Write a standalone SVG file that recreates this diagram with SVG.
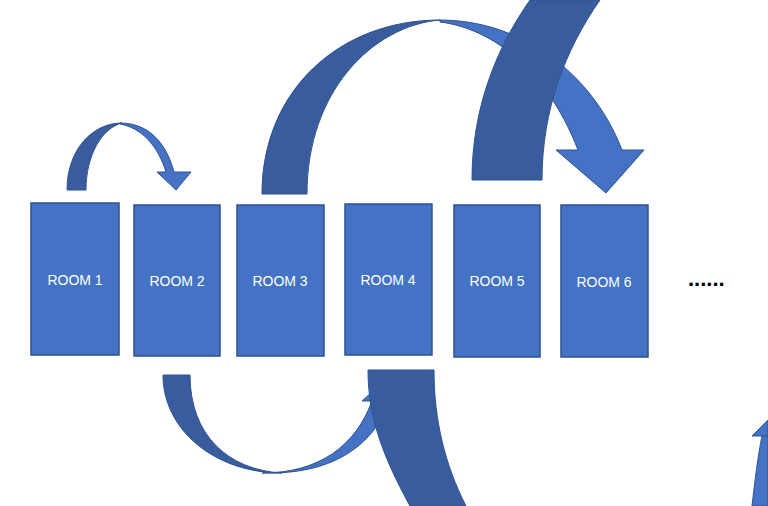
<svg xmlns="http://www.w3.org/2000/svg" width="768" height="506" viewBox="0 0 768 506">
<style>
.room{fill:#4472C4;stroke:#2F528F;stroke-width:1.5}
.lbl{font-family:"Liberation Sans",Arial,sans-serif;font-size:14px;fill:#fff;text-anchor:middle}
.dk{fill:#385C9E;stroke:#2F528F;stroke-width:1}
.lt{fill:#4472C4;stroke:#2F528F;stroke-width:1}
</style>
<rect width="768" height="506" fill="#fff"/>
<g id="connectors">
<path class="dk" d="M67,190 C67,150 92,123 122,123 C102,128 86,155 86,190 Z"/>
<path class="lt" d="M120,123 C148,123 166,142 174,172 L191,172 L176,190 L157,172 L166,172 C158,146 142,128 120,124 Z"/>
<path class="lt" d="M440,20 C520,20 592,72 622,150 L644,150 L606,193 L556,150 L578,150 C552,82 502,30 440,22 Z"/>
<path class="dk" d="M262,194 C262,90 340,20 440,20 C372,26 307,92 307,194 Z"/>
<path class="dk" d="M472,180 C472,110 495,50 530,0 L600,0 C565,50 542,110 542,180 Z"/>
<path class="lt" d="M262,473 C320,473 356,445 372,401 L362,401 L382,383 L400,401 L390,401 C372,448 330,475 262,473 Z"/>
<path class="dk" d="M163,375 L190,375 C190,435 228,470 282,473 C215,473 163,430 163,375 Z"/>
<path class="dk" d="M368,370 L434,370 C434,420 445,465 466,506 L410,506 C385,460 368,420 368,370 Z"/>
<path class="lt" d="M752,436 L768,420 L768,436 Z"/>
<path class="lt" d="M762,436 L768,436 L768,506 L752,506 C755,480 758,455 762,436 Z"/>
</g>
<g id="room1"><rect class="room" x="31" y="203" width="88" height="152"/><text class="lbl" x="75" y="285">ROOM 1</text></g>
<g id="room2"><rect class="room" x="134" y="205" width="86" height="151"/><text class="lbl" x="177" y="286">ROOM 2</text></g>
<g id="room3"><rect class="room" x="237" y="205" width="87" height="151"/><text class="lbl" x="280" y="286">ROOM 3</text></g>
<g id="room4"><rect class="room" x="345" y="204" width="87" height="151"/><text class="lbl" x="388" y="285">ROOM 4</text></g>
<g id="room5"><rect class="room" x="454" y="205" width="86" height="152"/><text class="lbl" x="497" y="286">ROOM 5</text></g>
<g id="room6"><rect class="room" x="561" y="205" width="87" height="152"/><text class="lbl" x="604" y="287">ROOM 6</text></g>
<text x="688" y="286" font-family="Liberation Sans,Arial,sans-serif" font-size="22" font-weight="bold" fill="#000">......</text>
</svg>
